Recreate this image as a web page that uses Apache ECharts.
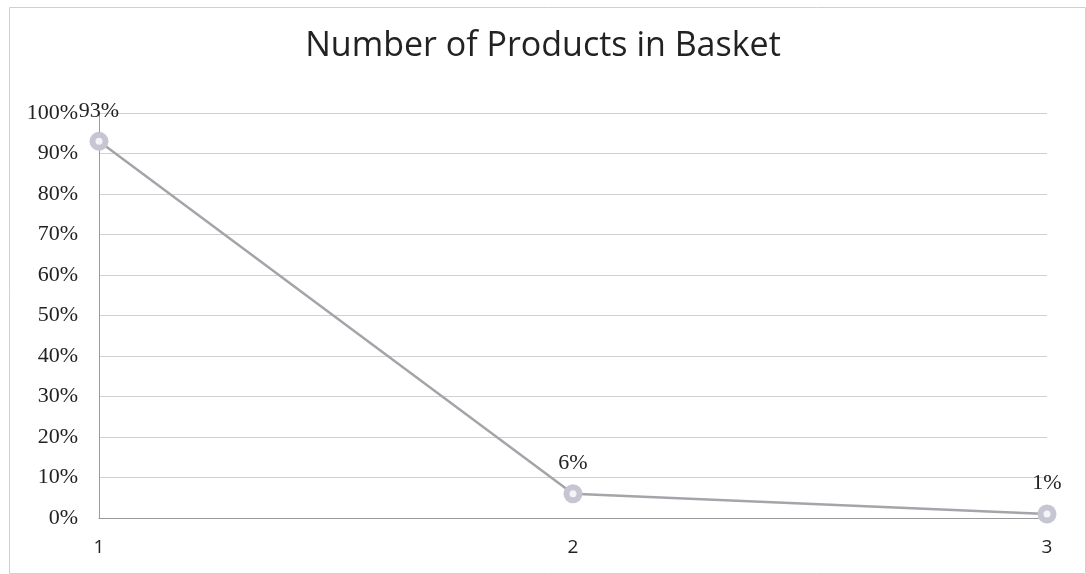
<!DOCTYPE html>
<html>
<head>
<meta charset="utf-8">
<style>
  html, body { margin: 0; padding: 0; background: #fff; }
  #chart { width: 1086px; height: 574px; }
</style>
<script src="https://cdn.jsdelivr.net/npm/echarts@6/dist/echarts.min.js"></script>
</head>
<body>
<div id="chart"></div>
<script>
// Number of products per basket and the share of baskets for each
const categories = ['1', '2', '3'];
const shares = [0.93, 0.06, 0.01];
const yTicks = { min: 0, max: 1, interval: 0.1 };

const serif = '"Liberation Serif", "DejaVu Serif", serif';
const sans = '"Open Sans", "Liberation Sans", sans-serif';
const pct = v => Math.round(v * 100) + '%';

const chart = echarts.init(document.getElementById('chart'));

chart.setOption({
  backgroundColor: '#ffffff',
  animation: false,
  title: {
    text: 'Number of Products in Basket',
    left: 'center',
    top: 24,
    textStyle: { fontFamily: sans, fontSize: 34, fontWeight: 'normal', color: '#222' }
  },
  graphic: [{
    type: 'rect',
    left: 7,
    top: 5,
    shape: { width: 1076, height: 566 },
    style: { fill: 'none', stroke: '#d0d0d0', lineWidth: 1 },
    silent: true
  }],
  grid: { left: 99, right: 39, top: 113, bottom: 56 },
  xAxis: {
    type: 'category',
    data: categories,
    boundaryGap: false,
    axisLine: { show: true, lineStyle: { color: '#9a9a9a', width: 1 } },
    axisTick: { show: false },
    axisLabel: { margin: 20, fontFamily: sans, fontSize: 19, color: '#222' },
    splitLine: { show: false }
  },
  yAxis: {
    type: 'value',
    min: yTicks.min,
    max: yTicks.max,
    interval: yTicks.interval,
    axisLine: { show: true, lineStyle: { color: '#9a9a9a', width: 1 } },
    axisTick: { show: false },
    axisLabel: { margin: 21, fontFamily: serif, fontSize: 22, color: '#222', formatter: pct },
    splitLine: { show: true, lineStyle: { color: '#d0d0d0', width: 1 } }
  },
  series: [{
    // the line with solid grey markers and value labels
    type: 'line',
    data: shares,
    symbol: 'circle',
    symbolSize: 19,
    z: 2,
    lineStyle: { color: '#a4a4aa', width: 2.5 },
    itemStyle: { color: '#c6c6d2', borderWidth: 0 },
    label: {
      show: true,
      position: 'top',
      distance: 10,
      fontFamily: serif,
      fontSize: 22,
      color: '#222',
      formatter: p => pct(p.value)
    }
  }, {
    // white centres that turn the markers into rings
    type: 'scatter',
    data: shares,
    symbol: 'circle',
    symbolSize: 7,
    z: 3,
    itemStyle: { color: '#ffffff' },
    silent: true
  }]
});
</script>
</body>
</html>
